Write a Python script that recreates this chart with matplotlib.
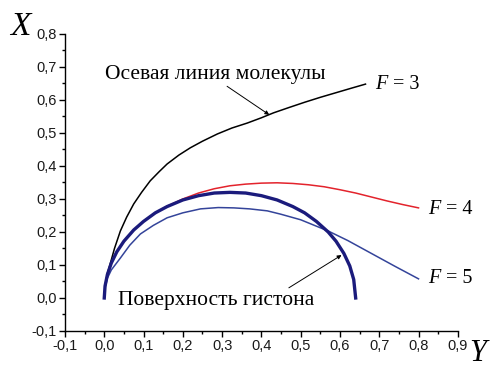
import numpy as np
import matplotlib.pyplot as plt
from matplotlib.ticker import MultipleLocator, FuncFormatter

# axial line of the molecule for F = 3
y3 = [0.0, 0.001, 0.003, 0.008, 0.015, 0.026, 0.041, 0.057, 0.075, 0.095, 0.117, 0.14,
      0.16, 0.19, 0.219, 0.25, 0.288, 0.325, 0.364, 0.4, 0.431, 0.47, 0.51, 0.55, 0.59,
      0.63, 0.665]
x3 = [0.0, 0.015, 0.042, 0.075, 0.103, 0.15, 0.203, 0.245, 0.285, 0.32, 0.355, 0.383,
      0.406, 0.433, 0.455, 0.475, 0.497, 0.515, 0.53, 0.546, 0.561, 0.577, 0.593, 0.608,
      0.622, 0.636, 0.648]

# F = 4
y4 = [0.0, 0.002, 0.008, 0.018, 0.032, 0.05, 0.075, 0.1, 0.13, 0.16, 0.2, 0.24, 0.28,
      0.32, 0.36, 0.4, 0.44, 0.48, 0.52, 0.56, 0.6, 0.64, 0.68, 0.72, 0.76, 0.8]
x4 = [0.0, 0.036, 0.071, 0.106, 0.14, 0.172, 0.206, 0.232, 0.258, 0.278, 0.3, 0.318,
      0.331, 0.34, 0.345, 0.348, 0.349, 0.347, 0.343, 0.337, 0.328, 0.318, 0.306, 0.294,
      0.283, 0.273]

# F = 5
y5 = [0.0, 0.002, 0.008, 0.018, 0.041, 0.065, 0.092, 0.125, 0.16, 0.2, 0.245, 0.29,
      0.33, 0.37, 0.415, 0.449, 0.5, 0.57, 0.62, 0.68, 0.74, 0.8]
x5 = [0.0, 0.03, 0.06, 0.085, 0.121, 0.16, 0.194, 0.22, 0.243, 0.258, 0.27, 0.274,
      0.273, 0.27, 0.264, 0.254, 0.237, 0.203, 0.174, 0.135, 0.096, 0.058]

# histone surface
yh = [0.0, 0.002, 0.008, 0.018, 0.032, 0.05, 0.075, 0.1, 0.13, 0.16, 0.2, 0.24, 0.28,
      0.32, 0.36, 0.4, 0.44, 0.48, 0.51, 0.54, 0.57, 0.59, 0.61, 0.625, 0.635, 0.64]
xh = [0.0, 0.036, 0.071, 0.106, 0.14, 0.172, 0.206, 0.232, 0.258, 0.277, 0.297, 0.31,
      0.318, 0.32, 0.318, 0.31, 0.297, 0.277, 0.258, 0.232, 0.2, 0.172, 0.135, 0.097,
      0.056, 0.0]

fig = plt.figure(figsize=(4.96, 3.69), dpi=100)
ax = fig.add_axes([0.131, 0.103, 0.792, 0.805])

ax.plot(y3, x3, color='black', lw=1.1)
ax.plot(y4, x4, color='#e3232c', lw=1.1)
ax.plot(y5, x5, color='#34449a', lw=1.1)
ax.plot(yh, xh, color='#1b1b7c', lw=2.4)

ax.set_xlim(-0.1, 0.9)
ax.set_ylim(-0.1, 0.8)
for s in ['top', 'right']:
    ax.spines[s].set_visible(False)
for s in ['left', 'bottom']:
    ax.spines[s].set_linewidth(1.0)

ax.xaxis.set_major_locator(MultipleLocator(0.1))
ax.xaxis.set_minor_locator(MultipleLocator(0.05))
ax.yaxis.set_major_locator(MultipleLocator(0.1))
ax.yaxis.set_minor_locator(MultipleLocator(0.05))
comma = FuncFormatter(lambda v, p: ('%.1f' % v).replace('.', ',').replace('-0,0', '0,0'))
ax.xaxis.set_major_formatter(comma)
ax.yaxis.set_major_formatter(comma)
ax.tick_params(which='major', length=4, width=1, labelsize=10.5, pad=2)
ax.tick_params(which='minor', length=2.5, width=1)
for lab in ax.get_xticklabels() + ax.get_yticklabels():
    lab.set_family('Liberation Sans')
    lab.set_color('#1a1a1a')

serif = 'Liberation Serif'
fig.text(0.02, 0.905, 'X', fontsize=24, family=serif, style='italic')
fig.text(0.947, 0.004, 'Y', fontsize=22, family=serif, style='italic', va='bottom')

ax.annotate('Осевая линия молекулы', xy=(0.42, 0.555), xytext=(0.003, 0.665),
            fontsize=15.5, family=serif,
            arrowprops=dict(arrowstyle='-|>', color='black', lw=0.7,
                            mutation_scale=6, shrinkA=0, shrinkB=0,
                            relpos=(0.52, 0.1)))
ax.annotate('Поверхность гистона', xy=(0.604, 0.13), xytext=(0.035, -0.02),
            fontsize=15.5, family=serif,
            arrowprops=dict(arrowstyle='-|>', color='black', lw=0.7,
                            mutation_scale=6, shrinkA=0, shrinkB=0,
                            relpos=(0.84, 0.95)))

# curve labels: italic F, upright "= n"
for lbl, xx, yy in [('3', 0.69, 0.648), ('4', 0.824, 0.267), ('5', 0.824, 0.058)]:
    ax.text(xx, yy, 'F', fontsize=14.5, family=serif, style='italic', va='center')
    ax.text(xx + 0.045, yy, '= ' + lbl, fontsize=14.5, family=serif, va='center')

fig.savefig('out.png', dpi=100)
